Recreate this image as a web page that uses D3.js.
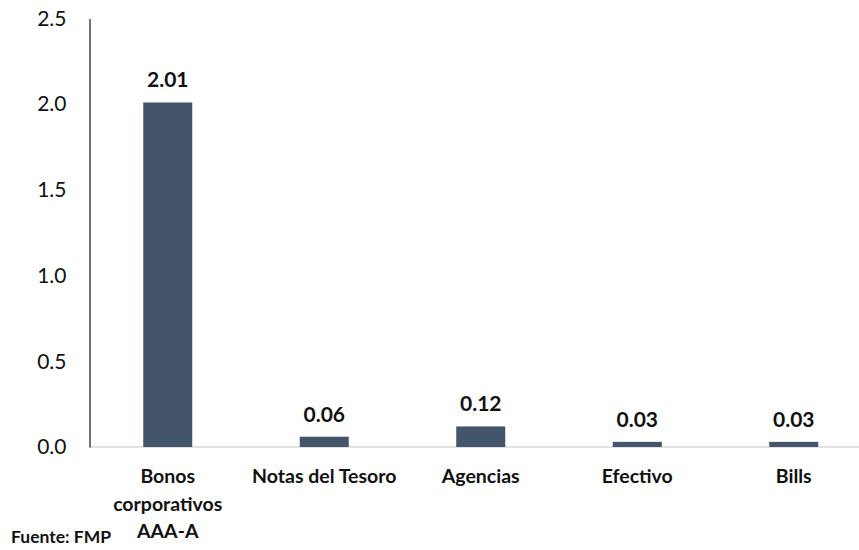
<!DOCTYPE html>
<html>
<head>
<meta charset="utf-8">
<script src="https://cdn.jsdelivr.net/npm/d3@7"></script>
<style>
  html, body { margin: 0; padding: 0; background: #ffffff; }
  svg { display: block; font-family: Lato, "Noto Sans", sans-serif; }
</style>
</head>
<body>
<svg id="chart" width="859" height="550"></svg>
<script>
// Categories (line breaks mark wrapped labels) and their values
const categories = ["Bonos\ncorporativos\nAAA-A", "Notas del Tesoro", "Agencias", "Efectivo", "Bills"];
const values = [2.01, 0.06, 0.12, 0.03, 0.03];
const yTicks = [0, 0.5, 1.0, 1.5, 2.0, 2.5];
const sourceNote = "Fuente: FMP";

const svg = d3.select("#chart");
const W = 859, H = 550;
const plot = { left: 89.5, right: 872, top: 18.5, bottom: 447 };

const x = d3.scaleBand()
  .domain(categories)
  .range([plot.left, plot.right])
  .paddingInner(0.687)
  .paddingOuter(0.3435);

const y = d3.scaleLinear()
  .domain([0, 2.5])
  .range([plot.bottom, plot.top]);

// Baseline along zero
svg.append("line")
  .attr("x1", plot.left).attr("x2", W)
  .attr("y1", y(0)).attr("y2", y(0))
  .attr("stroke", "#d9d9d9").attr("stroke-width", 1.5);

// Y axis
const yAxis = svg.append("g")
  .attr("transform", `translate(${plot.left},0)`)
  .call(d3.axisLeft(y).tickValues(yTicks).tickFormat(d3.format(".1f")).tickSize(0).tickPadding(23));
yAxis.select(".domain").attr("stroke", "#1a1a1a").attr("stroke-width", 1.2);
yAxis.selectAll("text")
  .attr("font-family", "Lato, sans-serif")
  .attr("font-size", 21)
  .attr("fill", "#111");

// Bars
svg.append("g").selectAll("rect")
  .data(values)
  .join("rect")
  .attr("x", (d, i) => x(categories[i]))
  .attr("width", x.bandwidth())
  .attr("y", d => y(d))
  .attr("height", d => y(0) - y(d))
  .attr("fill", "#44546a");

// Value labels
svg.append("g").selectAll("text")
  .data(values)
  .join("text")
  .attr("x", (d, i) => x(categories[i]) + x.bandwidth() / 2)
  .attr("y", d => y(d) - 15)
  .attr("text-anchor", "middle")
  .attr("font-size", 21)
  .attr("font-weight", "bold")
  .attr("fill", "#111")
  .text(d => d.toFixed(2));

// Category labels
const cat = svg.append("g").selectAll("text")
  .data(categories)
  .join("text")
  .attr("x", d => x(d) + x.bandwidth() / 2)
  .attr("y", 483)
  .attr("text-anchor", "middle")
  .attr("font-size", 19.5)
  .attr("font-weight", "bold")
  .attr("fill", "#111");
cat.each(function(d) {
  const t = d3.select(this);
  d.split("\n").forEach((line, k) => {
    t.append("tspan")
      .attr("x", x(d) + x.bandwidth() / 2)
      .attr("dy", k === 0 ? 0 : 27.5)
      .text(line);
  });
});

// Source note
svg.append("text")
  .attr("x", 11).attr("y", 543)
  .attr("font-size", 17.5)
  .attr("font-weight", "bold")
  .attr("fill", "#111")
  .text(sourceNote);
</script>
</body>
</html>
